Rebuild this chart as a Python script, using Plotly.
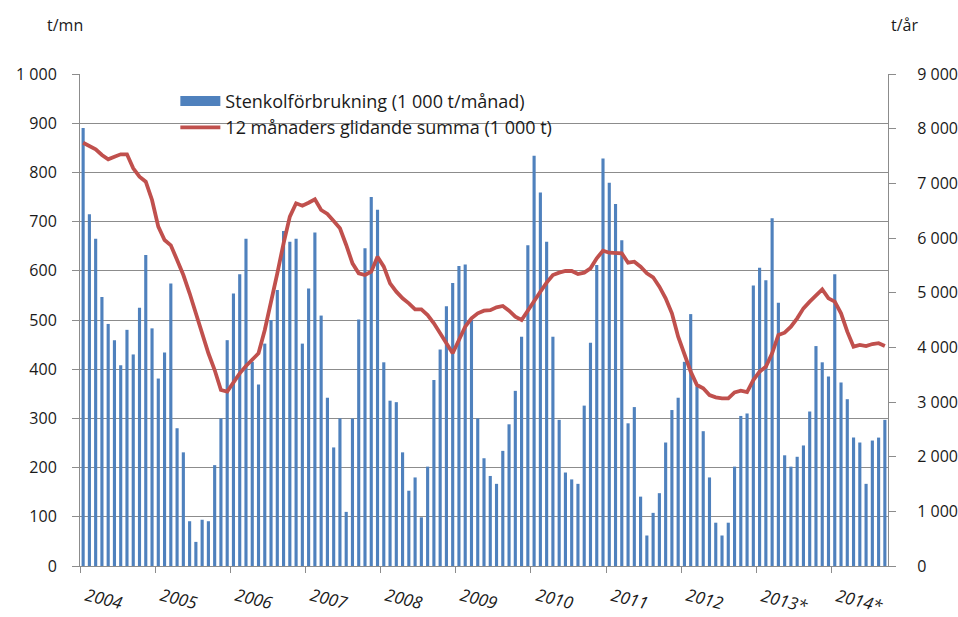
import plotly.graph_objects as go

years = ["2004", "2005", "2006", "2007", "2008", "2009", "2010", "2011", "2012", "2013*", "2014*"]

# Monthly hard coal consumption (1 000 t / month)
bars = [
    890, 715, 665, 547, 492, 459, 408, 480, 430, 525, 632, 483,   # 2004
    381, 434, 574, 280, 231, 91, 49, 94, 91, 205, 300, 459,       # 2005
    554, 593, 665, 415, 369, 452, 500, 561, 681, 659, 665, 452,   # 2006
    564, 678, 509, 342, 241, 300, 110, 300, 501, 646, 750, 724,   # 2007
    414, 336, 333, 231, 153, 180, 99, 202, 378, 440, 528, 575,    # 2008
    610, 613, 500, 300, 219, 183, 167, 234, 288, 356, 466, 652,   # 2009
    834, 759, 659, 466, 297, 190, 176, 167, 326, 454, 612, 828,   # 2010
    779, 736, 662, 290, 323, 141, 62, 108, 148, 251, 317, 342,    # 2011
    415, 512, 365, 274, 180, 88, 62, 88, 202, 305, 310, 570,      # 2012
    606, 581, 707, 535, 225, 202, 222, 245, 314, 447, 414, 385,   # 2013
    593, 373, 339, 261, 251, 167, 255, 261, 297,                  # 2014
]

# 12-month moving sum (1 000 t)
moving_sum = [
    7743, 7683, 7622, 7518, 7440, 7488, 7531, 7531, 7275, 7122, 7030, 6696,
    6207, 5963, 5866, 5598, 5323, 4989, 4623, 4257, 3891, 3585, 3220, 3189,
    3372, 3524, 3659, 3780, 3891, 4317, 4805, 5354, 5903, 6390, 6635, 6591,
    6646, 6708, 6512, 6439, 6311, 6177, 5872, 5537, 5354, 5323, 5384, 5658,
    5476, 5171, 5018, 4897, 4805, 4695, 4695, 4591, 4439, 4257, 4043, 3891,
    4134, 4378, 4531, 4622, 4671, 4680, 4732, 4756, 4671, 4561, 4500, 4683,
    4866, 5018, 5183, 5323, 5366, 5396, 5396, 5341, 5366, 5445, 5629, 5768,
    5731, 5720, 5720, 5548, 5567, 5476, 5354, 5281, 5109, 4897, 4622, 4195,
    3891, 3555, 3311, 3251, 3128, 3086, 3067, 3067, 3175, 3207, 3180, 3402,
    3555, 3646, 3891, 4226, 4268, 4378, 4531, 4713, 4835, 4957, 5061, 4897,
    4835, 4622, 4286, 4012, 4043, 4023, 4061, 4075, 4023,
]

left_ticks = [0, 100, 200, 300, 400, 500, 600, 700, 800, 900, 1000]
right_ticks = [0, 1000, 2000, 3000, 4000, 5000, 6000, 7000, 8000, 9000]

def fmt(v):
    return f"{v:,}".replace(",", " ")

months = list(range(len(bars)))
BLUE = "#4F81BD"
RED = "#C0504D"
GRID = "#8C8C8C"
FONT = "Open Sans"
TXT = "#1a1a1a"

fig = go.Figure()
fig.add_trace(go.Bar(x=months, y=bars, marker=dict(color=BLUE, line=dict(width=0)),
                     showlegend=False, yaxis="y"))
fig.add_trace(go.Scatter(x=[None], y=[None], mode="lines",
                         line=dict(color=BLUE, width=12),
                         name="Stenkolförbrukning (1 000 t/månad)"))
fig.add_trace(go.Scatter(x=months, y=moving_sum, mode="lines",
                         line=dict(color=RED, width=3.8),
                         name="12 månaders glidande summa (1 000 t)", yaxis="y2"))

year_starts = [-0.5 + 12 * k for k in range(len(years))]

annotations = []
for ys, lab in zip(year_starts, years):
    annotations.append(dict(text=f"<i>{lab}</i>", x=ys, xref="x", y=-0.03, yref="paper",
                            xanchor="left", yanchor="top", showarrow=False, textangle=14,
                            font=dict(family=FONT, size=17, color=TXT)))
annotations.append(dict(text="t/mn", x=-0.018, y=1.1, xref="paper", yref="paper",
                        xanchor="center", yanchor="middle", showarrow=False,
                        font=dict(family=FONT, size=16, color=TXT)))
annotations.append(dict(text="t/år", x=1.02, y=1.1, xref="paper", yref="paper",
                        xanchor="center", yanchor="middle", showarrow=False,
                        font=dict(family=FONT, size=16, color=TXT)))

fig.update_layout(
    width=958, height=617,
    margin=dict(l=80, r=70, t=74, b=51),
    paper_bgcolor="white", plot_bgcolor="white",
    font=dict(family=FONT, size=16, color=TXT),
    bargap=0.5,
    xaxis=dict(range=[-0.5, len(bars) - 0.5], tickmode="array", tickvals=year_starts,
               showticklabels=False, ticks="outside", ticklen=6, tickcolor=GRID,
               showgrid=False, showline=True, linecolor=GRID, zeroline=False),
    yaxis=dict(range=[0, 1000], tickmode="array", tickvals=left_ticks,
               ticktext=[fmt(v) for v in left_ticks], showgrid=True, gridcolor=GRID,
               ticks="outside", ticklen=7, tickcolor=GRID, showline=True, linecolor=GRID,
               zeroline=False, ticklabelstandoff=12, automargin=False),
    yaxis2=dict(range=[0, 9000], overlaying="y", side="right", tickmode="array",
                tickvals=right_ticks, ticktext=[fmt(v) for v in right_ticks],
                showgrid=False, ticks="outside", ticklen=7, tickcolor=GRID,
                showline=True, linecolor=GRID, zeroline=False, ticklabelstandoff=18,
                automargin=False),
    legend=dict(x=0.118, y=0.982, xanchor="left", yanchor="top", bgcolor="rgba(0,0,0,0)",
                itemwidth=40, font=dict(family=FONT, size=18, color=TXT),
                traceorder="normal"),
    shapes=[dict(type="rect", xref="paper", yref="y", x0=0.0705, x1=0.66, y0=850, y1=985,
                 fillcolor="white", line=dict(width=0), layer="between")],
    annotations=annotations,
)

fig.write_html("out.html", config={"displayModeBar": False},
               post_script="document.body.style.margin='0';")
